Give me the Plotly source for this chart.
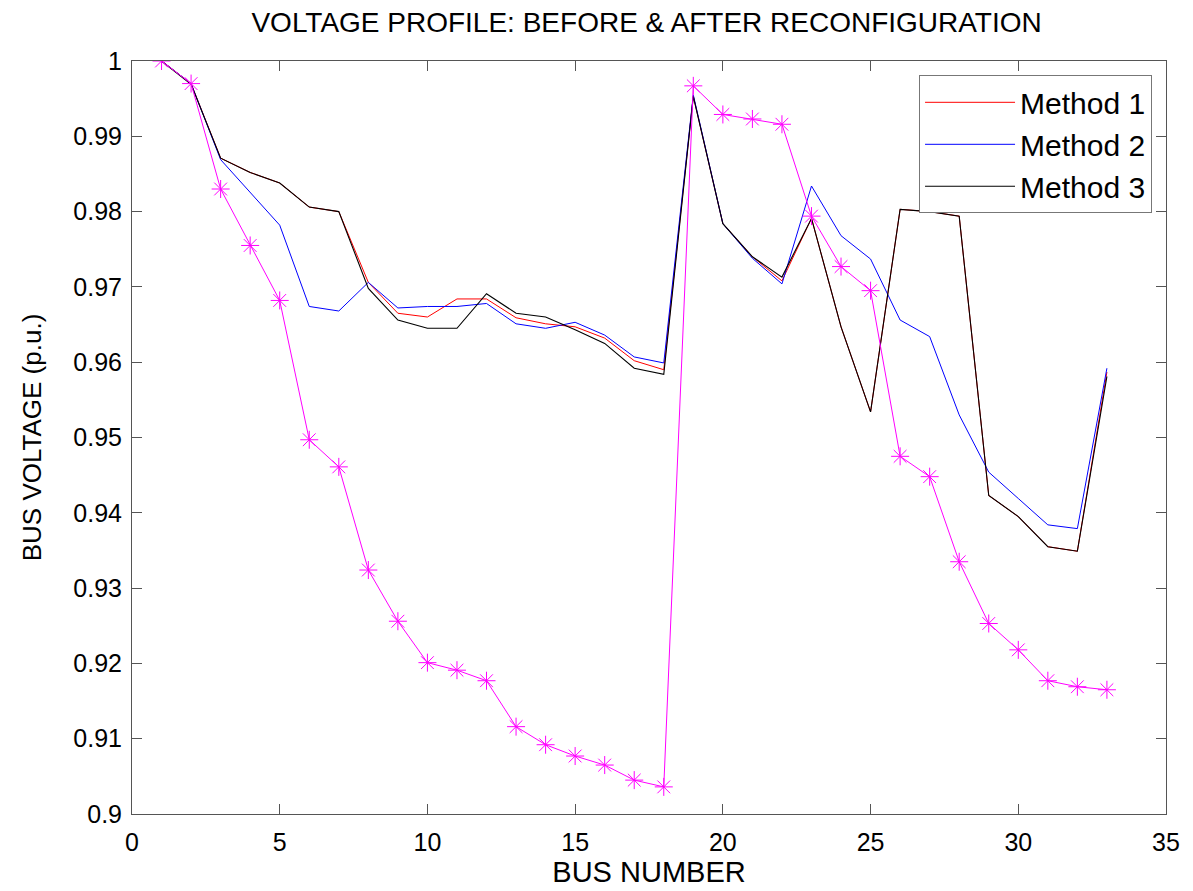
import plotly.graph_objects as go

bus = list(range(1, 34))

before = [1.0, 0.9970, 0.9830, 0.9755, 0.9682, 0.9497, 0.9461, 0.9324, 0.9256, 0.9201,
          0.9191, 0.9177, 0.9116, 0.9092, 0.9077, 0.9065, 0.9045, 0.9036, 0.9967, 0.9929,
          0.9923, 0.9916, 0.9794, 0.9727, 0.9695, 0.9475, 0.9448, 0.9335, 0.9253, 0.9218,
          0.9177, 0.9169, 0.9165]

method1 = [1.0, 0.9970, 0.9871, 0.9852, 0.9838, 0.9806, 0.9800, 0.9706, 0.9665, 0.9660,
           0.9684, 0.9684, 0.9659, 0.9651, 0.9647, 0.9632, 0.9602, 0.9590, 0.9953, 0.9784,
           0.9740, 0.9708, 0.9791, 0.9647, 0.9534, 0.9803, 0.9800, 0.9794, 0.9423, 0.9395,
           0.9355, 0.9349, 0.9587]

method2 = [1.0, 0.9970, 0.9869, 0.9826, 0.9782, 0.9674, 0.9668, 0.9706, 0.9672, 0.9674,
           0.9674, 0.9678, 0.9651, 0.9645, 0.9653, 0.9636, 0.9607, 0.9599, 0.9955, 0.9784,
           0.9738, 0.9704, 0.9834, 0.9768, 0.9737, 0.9656, 0.9634, 0.9530, 0.9454, 0.9419,
           0.9384, 0.9379, 0.9592]

method3 = [1.0, 0.9969, 0.9871, 0.9852, 0.9838, 0.9806, 0.9800, 0.9698, 0.9656, 0.9645,
           0.9645, 0.9691, 0.9665, 0.9660, 0.9643, 0.9625, 0.9592, 0.9584, 0.9953, 0.9784,
           0.9740, 0.9713, 0.9791, 0.9647, 0.9534, 0.9803, 0.9800, 0.9794, 0.9423, 0.9395,
           0.9355, 0.9349, 0.9581]

xticks = [0, 5, 10, 15, 20, 25, 30, 35]
yticks = [0.9, 0.91, 0.92, 0.93, 0.94, 0.95, 0.96, 0.97, 0.98, 0.99, 1.0]
ytick_labels = ["0.9", "0.91", "0.92", "0.93", "0.94", "0.95", "0.96", "0.97", "0.98", "0.99", "1"]

FONT = "Liberation Sans, Arial, sans-serif"
AX = "#555555"

fig = go.Figure()
fig.add_trace(go.Scatter(x=bus, y=method1, mode="lines", name="Method 1",
                         line=dict(color="#ff0000", width=1)))
fig.add_trace(go.Scatter(x=bus, y=method2, mode="lines", name="Method 2",
                         line=dict(color="#0000ff", width=1)))
fig.add_trace(go.Scatter(x=bus, y=method3, mode="lines", name="Method 3",
                         line=dict(color="#000000", width=1.1)))
fig.add_trace(go.Scatter(x=bus, y=before, mode="lines+markers", name="Before",
                         showlegend=False,
                         line=dict(color="#ff00ff", width=1),
                         marker=dict(symbol="asterisk-open", size=15,
                                     line=dict(color="#ff00ff", width=1))))

fig.update_layout(
    width=1193, height=891,
    margin=dict(l=132, r=27, t=61, b=77),
    paper_bgcolor="white", plot_bgcolor="white",
    font=dict(family=FONT, color="black"),
    title=dict(text="VOLTAGE PROFILE: BEFORE &amp; AFTER RECONFIGURATION",
               x=0.542, xanchor="center", y=0.975, yanchor="middle",
               font=dict(size=28, family=FONT, color="black"),
               automargin=False),
    showlegend=True,
    legend=dict(x=0.9865, xanchor="right", y=0.981, yanchor="top",
                bgcolor="white", bordercolor="#777777", borderwidth=1,
                font=dict(size=30, family=FONT, color="black"),
                itemwidth=90, tracegroupgap=0),
)

fig.update_xaxes(range=[0, 35], tickvals=xticks, ticks="inside", ticklen=10,
                 tickcolor=AX, showline=True, linecolor=AX, linewidth=1,
                 mirror="ticks", showgrid=False, zeroline=False,
                 automargin=False,
                 tickfont=dict(size=25, family=FONT, color="black"),
                 ticklabelstandoff=6,
                 title=dict(text="BUS NUMBER", standoff=6,
                            font=dict(size=29, family=FONT, color="black")))
fig.update_yaxes(range=[0.9, 1.0], tickvals=yticks, ticktext=ytick_labels,
                 ticks="inside", ticklen=10,
                 tickcolor=AX, showline=True, linecolor=AX, linewidth=1,
                 mirror="ticks", showgrid=False, zeroline=False,
                 automargin=False,
                 tickfont=dict(size=25, family=FONT, color="black"),
                 ticklabelstandoff=4,
                 title=dict(text="BUS VOLTAGE (p.u.)", standoff=24,
                            font=dict(size=26, family=FONT, color="black")))

fig.write_html("out.html")
